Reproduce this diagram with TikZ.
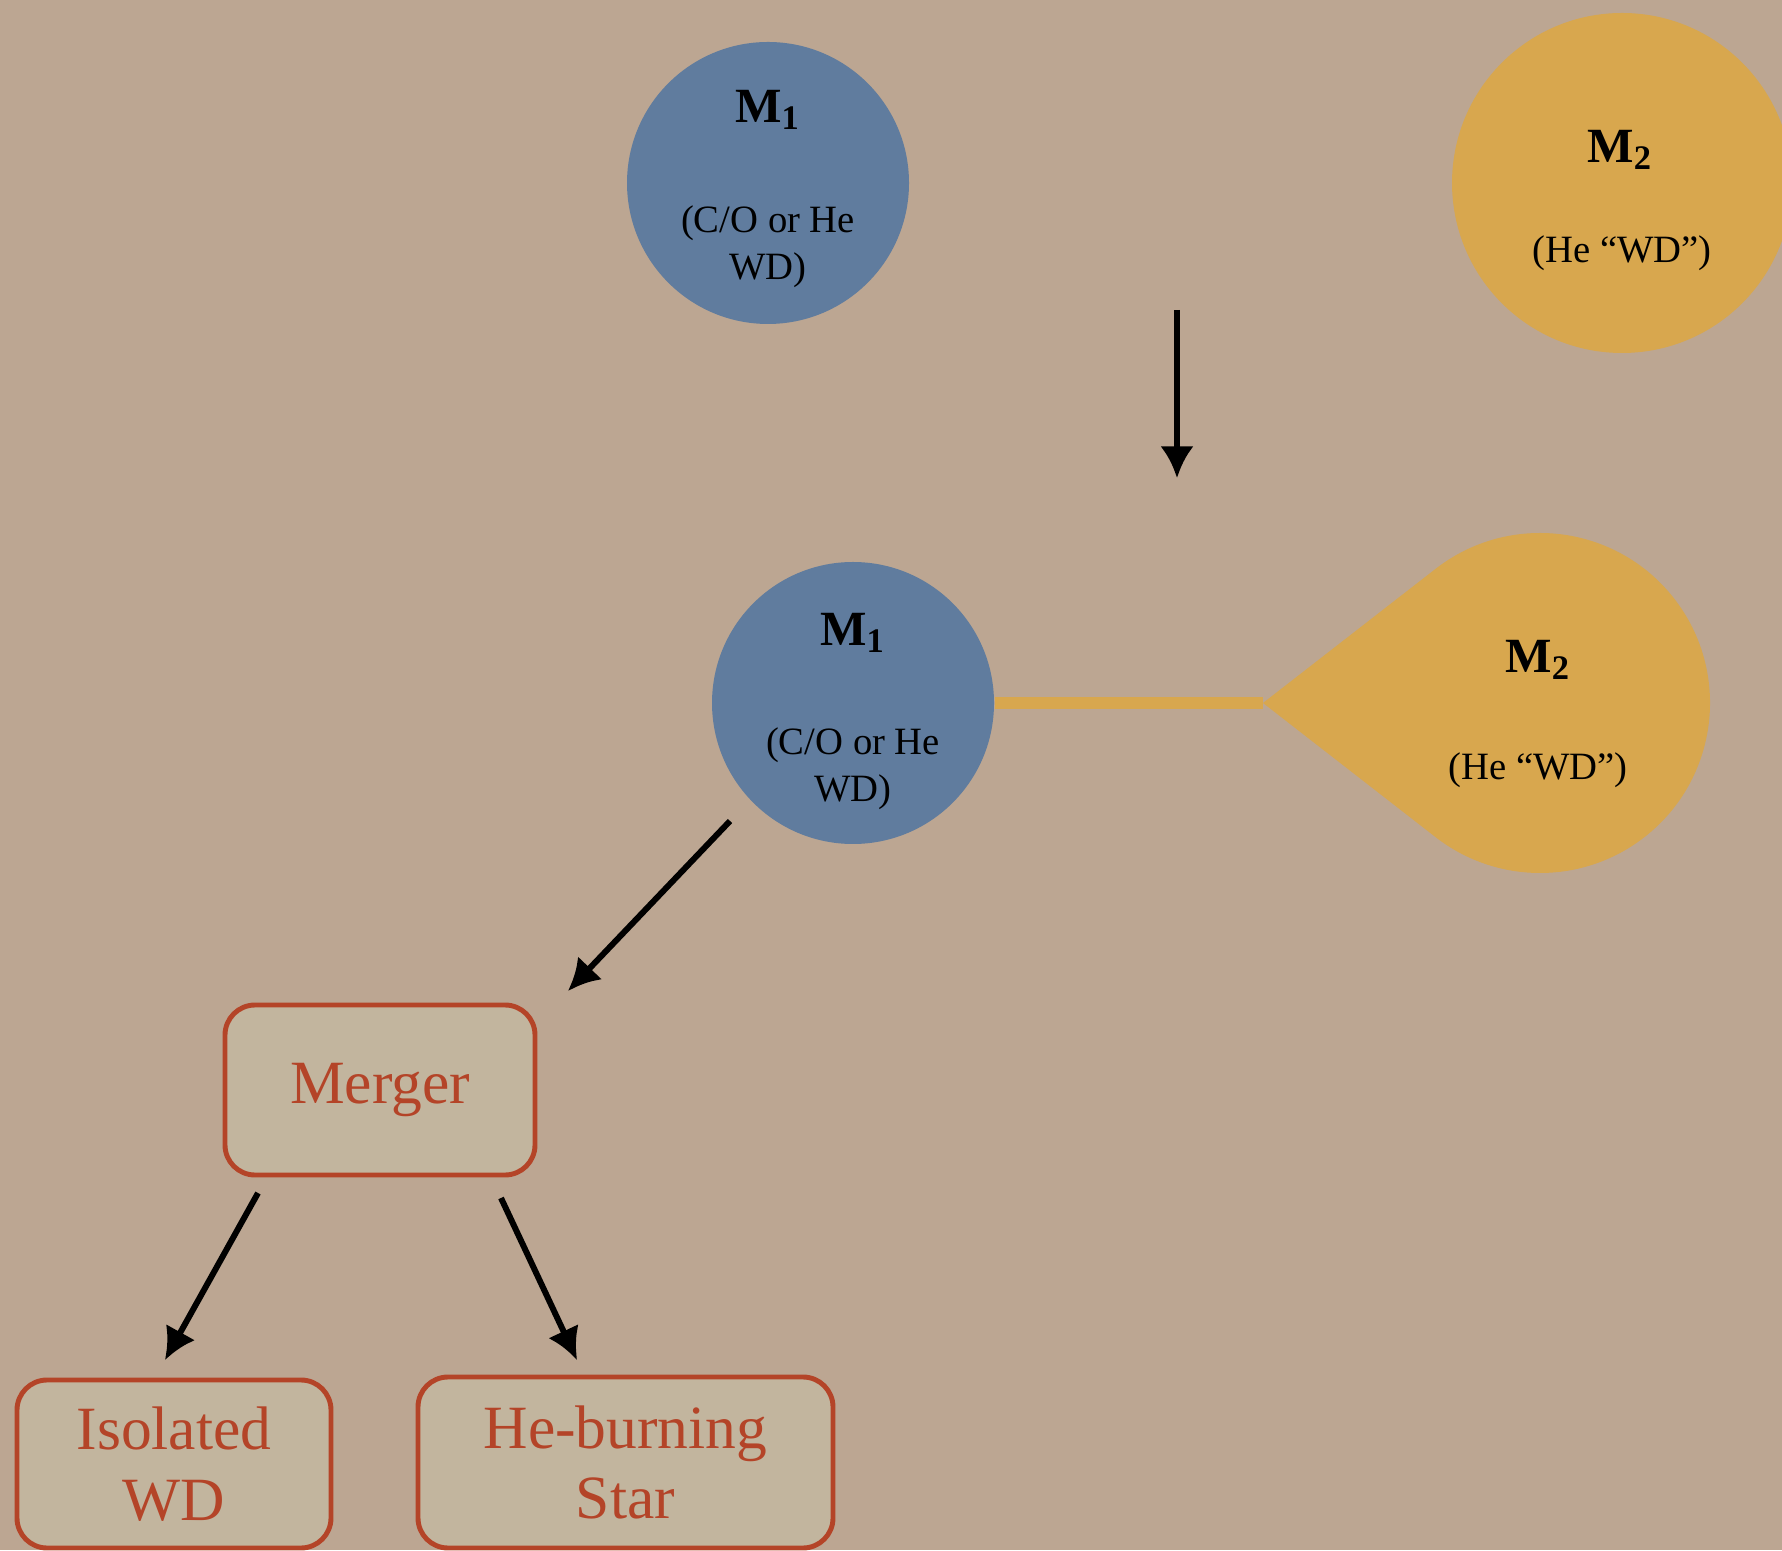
\documentclass[tikz,border=0pt]{standalone}
\usepackage{fontspec}
\setmainfont{Liberation Serif}
\usepackage{tikz}
\usetikzlibrary{calc, arrows.meta, shapes}
\definecolor{bgtan}{RGB}{188,166,146}
\definecolor{starblue}{RGB}{96,124,158}
\definecolor{starorange}{RGB}{216,167,78}
\definecolor{boxfill}{RGB}{194,181,158}
\definecolor{boxred}{RGB}{180,68,40}
\tikzset{>={Latex[length=9pt,width=9.5pt]}}
\tikzset{
  wd/.style = {circle, fill=starblue, minimum size=2.82cm, inner sep=0pt},
  donor/.style = {circle, fill=starorange, minimum size=3.4cm, inner sep=0pt},
  starname/.style = {font=\fontsize{14}{16}\selectfont\bfseries},
  startype/.style = {align=center, font=\fontsize{11}{13.4}\selectfont},
  outcome/.style = {draw=boxred, line width=1.4pt, fill=boxfill, rounded corners=0.3cm,
    text=boxred, align=center, font=\fontsize{17.5}{20}\selectfont, inner sep=0pt},
  flow/.style = {->, line width=1.7pt},
}

\begin{document}
\begin{tikzpicture}
\fill[bgtan] (0,0) rectangle (17.82,15.5);
\useasboundingbox (0,0) rectangle (17.82,15.5);
\clip (0,0) rectangle (17.82,15.5);

% detached pair
\node[wd] (m1a) at (7.68,13.67) {};
\node[starname] (m1aname) at (7.68,14.40) {M\textsubscript{1}};
\node[startype] (m1atype) at (7.68,13.03) {(C/O or He\\WD)};
\node[donor] (m2a) at (16.22,13.67) {};
\node[starname] (m2aname) at (16.20,14.00) {M\textsubscript{2}};
\node[startype] (m2atype) at (16.22,12.97) {(He “WD”)};

\coordinate (dropS) at (11.77,12.40);
\coordinate (dropE) at (11.77,10.72);
\draw[flow] (dropS) -- (dropE);

% mass transfer
\coordinate (tip) at (12.63,8.47);
\coordinate (m2core) at (15.40,8.47);
\fill[starorange] (tip) -- ($(m2core)+(127.9:1.70)$) arc[start angle=127.9, end angle=-127.9, radius=1.70] -- cycle;
\node[wd] (m1b) at (8.53,8.47) {};
\draw[starorange, line width=0.12cm] (m1b.east) -- (tip);
\node[starname] (m1bname) at (8.53,9.17) {M\textsubscript{1}};
\node[startype] (m1btype) at (8.53,7.81) {(C/O or He\\WD)};
\node[starname] (m2bname) at (15.38,8.90) {M\textsubscript{2}};
\node[startype] (m2btype) at (15.38,7.80) {(He “WD”)};

% outcomes
\node[outcome, minimum width=3.10cm, minimum height=1.70cm] (merger) at (3.80,4.60) {Merger};
\node[outcome, minimum width=3.14cm, minimum height=1.68cm] (isolated) at (1.74,0.86) {Isolated\\WD};
\node[outcome, minimum width=4.15cm, minimum height=1.71cm] (heburn) at (6.255,0.875) {He-burning\\Star};

\coordinate (mergeS) at (7.30,7.29);
\coordinate (mergeE) at (5.68,5.59);
\coordinate (isoS) at (2.58,3.57);
\coordinate (isoE) at (1.65,1.90);
\coordinate (heS) at (5.01,3.52);
\coordinate (heE) at (5.77,1.90);
\draw[flow] (mergeS) -- (mergeE);
\draw[flow] (isoS) -- (isoE);
\draw[flow] (heS) -- (heE);
\end{tikzpicture}
\end{document}
